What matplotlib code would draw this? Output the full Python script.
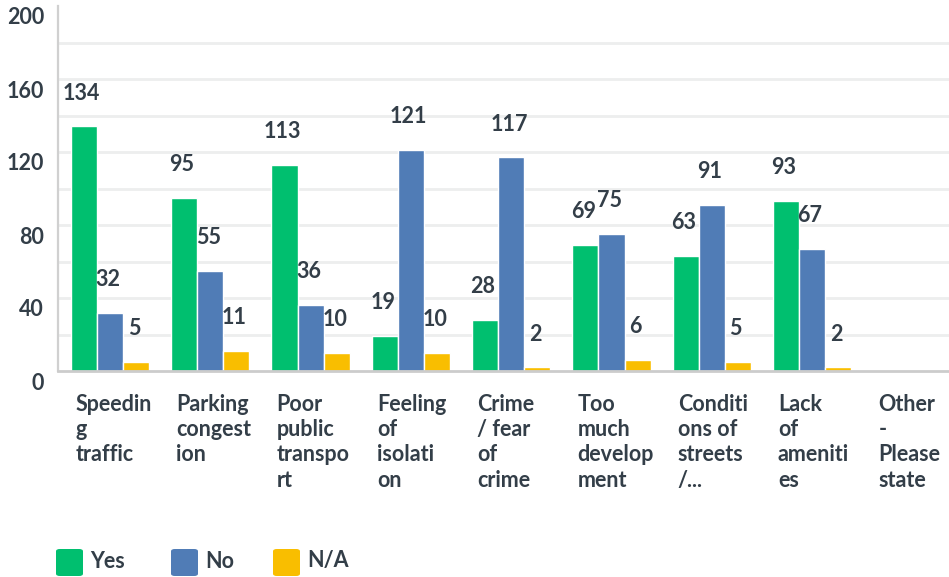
import numpy as np
import matplotlib.pyplot as plt
from matplotlib.patches import FancyBboxPatch
from matplotlib.transforms import ScaledTranslation

categories = [
    "Speedin\ng\ntraffic",
    "Parking\ncongest\nion",
    "Poor\npublic\ntranspo\nrt",
    "Feeling\nof\nisolati\non",
    "Crime\n/ fear\nof\ncrime",
    "Too\nmuch\ndevelop\nment",
    "Conditi\nons of\nstreets\n/...",
    "Lack\nof\nameniti\nes",
    "Other\n-\nPlease\nstate",
]
yes_vals = [134, 95, 113, 19, 28, 69, 63, 93, 0]
no_vals = [32, 55, 36, 121, 117, 75, 91, 67, 0]
na_vals = [5, 11, 10, 10, 2, 6, 5, 2, 0]
series_names = ["Yes", "No", "N/A"]
colors = ["#00BF6F", "#507CB6", "#F9BE00"]
ytick_vals = [0, 40, 80, 120, 160, 200]

TXT = "#333E48"
FS = 15.5
plt.rcParams["font.family"] = ["Lato", "DejaVu Sans"]

W, H = 949, 577
fig = plt.figure(figsize=(W / 100, H / 100), dpi=100)
ax = fig.add_axes([58 / W, (H - 371) / H, (W - 58) / W, 365 / H])

x = np.arange(len(categories))
bw = 0.26
series = [yes_vals, no_vals, na_vals]

# light grid every 20, no line at the top
for g in np.arange(20, 200, 20):
    ax.axhline(g, color="#EDEEEE", lw=2, zorder=0)

for i, (vals, col) in enumerate(zip(series, colors)):
    pos = x + (i - 1) * bw
    ax.bar(pos, vals, width=bw, color=col, edgecolor="white", linewidth=1, zorder=2)
    for p, v in zip(pos, vals):
        if v == 0:
            continue
        ax.annotate(str(v), (p, v), xytext=(-1.5, 24), textcoords="offset points",
                    ha="center", va="center", fontsize=FS, fontweight="bold",
                    color=TXT, zorder=3)

ax.set_xlim(-0.518, 8.365)
ax.set_ylim(0, 200)

for s in ["top", "right"]:
    ax.spines[s].set_visible(False)
ax.spines["left"].set_color("#D0D0D0")
ax.spines["left"].set_linewidth(1.6)
ax.spines["bottom"].set_color("#CCCCCC")
ax.spines["bottom"].set_linewidth(2)
ax.spines["bottom"].set_zorder(4)

ax.set_yticks(ytick_vals)
ax.set_yticklabels([str(v) for v in ytick_vals], fontsize=FS, fontweight="bold", color=TXT)
ax.tick_params(axis="y", length=0, pad=10)
off = ScaledTranslation(0, -10 / 100, fig.dpi_scale_trans)
for lab in ax.get_yticklabels():
    lab.set_transform(lab.get_transform() + off)

ax.set_xticks([])
for xi, cat in zip(x, categories):
    ax.text(xi - 0.34, -0.063, cat, transform=ax.get_xaxis_transform(), ha="left", va="top",
            fontsize=FS, fontweight="bold", color=TXT, linespacing=1.25)

# legend at bottom
leg_x = [55, 170, 272]
for lx, name, col in zip(leg_x, series_names, colors):
    fig.patches.append(FancyBboxPatch(((lx + 1) / W, (H - 576) / H), 27 / W, 27 / H,
                                      boxstyle="round,pad=0,rounding_size=0.004",
                                      transform=fig.transFigure, facecolor=col, edgecolor="none"))
    fig.text((lx + 35) / W, (H - 561) / H, name, ha="left", va="center", fontsize=FS,
             fontweight="bold", color=TXT)

fig.savefig("out.png", dpi=100)
